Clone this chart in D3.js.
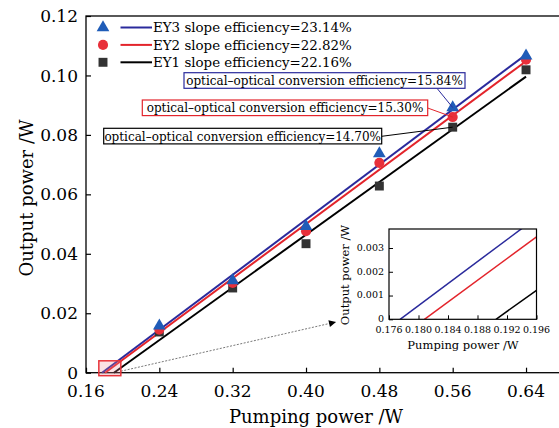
<!DOCTYPE html>
<html>
<head>
  <meta charset="UTF-8">
  <style>
body {
    margin: 0;
    padding: 0;
    background-color: white;
}
svg {
    display: block;
    font-family: "DejaVu Serif", serif;
}
  </style>
</head>
<body>
<svg></svg>

<script src="https://d3js.org/d3.v7.min.js"></script>

<script>

let width = 559, height = 428;

// values
const pumpPower = [0.24, 0.32, 0.40, 0.48, 0.56, 0.64];
const ey3Power = [0.0158, 0.0310, 0.0492, 0.0737, 0.0892, 0.1066];
const ey2Power = [0.0145, 0.0302, 0.0476, 0.0706, 0.0860, 0.1053];
const ey1Power = [0.0137, 0.0285, 0.0434, 0.0628, 0.0826, 0.1019];

const seriesNames = ["EY3", "EY2", "EY1"];
const slopeEff = [0.2314, 0.2282, 0.2216];
const thresholds = [0.1775, 0.1808, 0.1905];
const legendLabels = ["EY3 slope efficiency=23.14%", "EY2 slope efficiency=22.82%", "EY1 slope efficiency=22.16%"];
const convLabels = [
  "optical\u2013optical conversion efficiency=15.84%",
  "optical\u2013optical conversion efficiency=15.30%",
  "optical\u2013optical conversion efficiency=14.70%"
];

const xTicks = [0.16, 0.24, 0.32, 0.40, 0.48, 0.56, 0.64];
const yTicks = [0, 0.02, 0.04, 0.06, 0.08, 0.10, 0.12];
const insetXTicks = [0.176, 0.180, 0.184, 0.188, 0.192, 0.196];
const insetYTicks = [0, 0.001, 0.002, 0.003];

const lineColors = ["#2a2a9c", "#e3242b", "#000000"];
const markColors = ["#1f5cb8", "#e8303a", "#333333"];
const symbols = [d3.symbolTriangle, d3.symbolCircle, d3.symbolSquare];
const powers = [ey3Power, ey2Power, ey1Power];

let svg = d3.select("svg")
    .attr("width", width)
    .attr("height", height);

// main scales
let x = d3.scaleLinear().domain([0.16, 0.68]).range([86, 562.7]);
let y = d3.scaleLinear().domain([0, 0.12]).range([372.7, 16]);

// frame
svg.append("rect")
  .attr("x", x(0.16)).attr("y", y(0.12))
  .attr("width", x(0.68) - x(0.16)).attr("height", y(0) - y(0.12))
  .attr("fill", "none").attr("stroke", "black").attr("stroke-width", 1.3);

// axes, ticks pointing inward
let xAxis = svg.append("g")
  .attr("transform", `translate(0,${y(0)})`)
  .call(d3.axisTop(x).tickValues(xTicks).tickSize(5).tickFormat(""));
xAxis.select(".domain").remove();
xAxis.selectAll("line").attr("stroke-width", 1.2);

let yAxis = svg.append("g")
  .attr("transform", `translate(${x(0.16)},0)`)
  .call(d3.axisRight(y).tickValues(yTicks).tickSize(5).tickFormat(""));
yAxis.select(".domain").remove();
yAxis.selectAll("line").attr("stroke-width", 1.2);

svg.append("g").selectAll("text")
  .data(xTicks).enter().append("text")
  .attr("x", d => x(d)).attr("y", 397)
  .attr("text-anchor", "middle").attr("font-size", "17px")
  .text(d => d3.format(".2f")(d));

svg.append("g").selectAll("text")
  .data(yTicks).enter().append("text")
  .attr("x", 78).attr("y", d => y(d)).attr("dy", "0.36em")
  .attr("text-anchor", "end").attr("font-size", "17px")
  .text(d => d == 0 ? "0" : d3.format(".2f")(d));

svg.append("text")
  .attr("x", 316).attr("y", 423)
  .attr("text-anchor", "middle").attr("font-size", "18px")
  .text("Pumping power /W");

svg.append("text")
  .attr("transform", "translate(33,198) rotate(-90)")
  .attr("text-anchor", "middle").attr("font-size", "18px")
  .text("Output power /W");

// fitted lines
let fitLines = svg.append("g");
seriesNames.forEach((s, i) => {
  fitLines.append("line")
    .attr("x1", x(thresholds[i])).attr("y1", y(0))
    .attr("x2", x(0.64)).attr("y2", y(slopeEff[i] * (0.64 - thresholds[i])))
    .attr("stroke", lineColors[i]).attr("stroke-width", 2);
});

// markers, EY1 first so triangles sit on top
let marks = svg.append("g");
[2, 1, 0].forEach(i => {
  marks.selectAll(".m" + i)
    .data(pumpPower.map((p, j) => [p, powers[i][j]]))
    .enter().append("path")
    .attr("class", "m" + i)
    .attr("transform", d => `translate(${x(d[0])},${y(d[1])})`)
    .attr("d", d3.symbol().type(symbols[i]).size(i == 0 ? 70 : 80))
    .attr("fill", markColors[i]);
});

// legend
let legend = svg.append("g");
seriesNames.forEach((s, i) => {
  let ly = 27.5 + i * 17.4;
  legend.append("path")
    .attr("transform", `translate(103,${ly})`)
    .attr("d", d3.symbol().type(symbols[i]).size(i == 0 ? 70 : 80))
    .attr("fill", markColors[i]);
  legend.append("line")
    .attr("x1", 120.5).attr("x2", 152).attr("y1", ly).attr("y2", ly)
    .attr("stroke", lineColors[i]).attr("stroke-width", 2);
  legend.append("text")
    .attr("x", 153).attr("y", ly).attr("dy", "0.36em")
    .attr("font-size", "13.4px")
    .text(legendLabels[i]);
});

// conversion efficiency callouts
const boxX = [184, 142.3, 103.7];
const boxY = [72.7, 100, 128.3];
const boxW = [281, 285.4, 278];
const boxColors = ["#2a2a9c", "#e3242b", "#000000"];
let callouts = svg.append("g");
seriesNames.forEach((s, i) => {
  let px = x(0.56), py = y(powers[i][4]);
  let sx = i == 0 ? boxX[i] + boxW[i] - 28 : boxX[i] + boxW[i];
  let sy = i == 0 ? boxY[i] + 15.6 : boxY[i] + 8;
  callouts.append("line")
    .attr("x1", sx).attr("y1", sy).attr("x2", px).attr("y2", py)
    .attr("stroke", boxColors[i]).attr("stroke-width", 1);
  callouts.append("rect")
    .attr("x", boxX[i]).attr("y", boxY[i])
    .attr("width", boxW[i]).attr("height", 15.6)
    .attr("fill", "white").attr("stroke", boxColors[i]).attr("stroke-width", 1.2);
  callouts.append("text")
    .attr("x", boxX[i] + boxW[i] / 2).attr("y", boxY[i] + 8).attr("dy", "0.36em")
    .attr("text-anchor", "middle").attr("font-size", "12px")
    .text(convLabels[i]);
});

// zoom marker near threshold + dashed arrow to inset
svg.append("defs").append("marker")
  .attr("id", "arrow").attr("viewBox", "0 0 10 10")
  .attr("refX", 10).attr("refY", 5)
  .attr("markerWidth", 9).attr("markerHeight", 7)
  .attr("markerUnits", "userSpaceOnUse")
  .attr("orient", "auto")
  .append("path").attr("d", "M0,0 L10,5 L0,10 z").attr("fill", "black");

svg.append("line")
  .attr("x1", x(0.198)).attr("y1", y(0.0005))
  .attr("x2", 336).attr("y2", 322)
  .attr("stroke", "#555").attr("stroke-width", 0.8)
  .attr("stroke-dasharray", "2,1.5")
  .attr("marker-end", "url(#arrow)");

svg.append("rect")
  .attr("x", x(0.174)).attr("y", y(0.004))
  .attr("width", x(0.198) - x(0.174)).attr("height", y(-0.001) - y(0.004))
  .attr("fill", "rgba(240,140,150,0.25)")
  .attr("stroke", "#e8333a").attr("stroke-width", 1.5);

// inset
let ix = d3.scaleLinear().domain([0.176, 0.196]).range([389, 536.5]);
let iy = d3.scaleLinear().domain([0, 0.0038]).range([319.3, 229]);

let inset = svg.append("g");
inset.append("rect")
  .attr("x", ix(0.176)).attr("y", iy(0.0038))
  .attr("width", ix(0.196) - ix(0.176)).attr("height", iy(0) - iy(0.0038))
  .attr("fill", "white");

inset.append("clipPath").attr("id", "insetClip")
  .append("rect")
  .attr("x", ix(0.176)).attr("y", iy(0.0038))
  .attr("width", ix(0.196) - ix(0.176)).attr("height", iy(0) - iy(0.0038));

let insetLines = inset.append("g").attr("clip-path", "url(#insetClip)");
seriesNames.forEach((s, i) => {
  insetLines.append("line")
    .attr("x1", ix(thresholds[i])).attr("y1", iy(0))
    .attr("x2", ix(0.196)).attr("y2", iy(slopeEff[i] * (0.196 - thresholds[i])))
    .attr("stroke", lineColors[i]).attr("stroke-width", 1.5);
});

inset.append("rect")
  .attr("x", ix(0.176)).attr("y", iy(0.0038))
  .attr("width", ix(0.196) - ix(0.176)).attr("height", iy(0) - iy(0.0038))
  .attr("fill", "none").attr("stroke", "black").attr("stroke-width", 1.2);

let ixAxis = inset.append("g")
  .attr("transform", `translate(0,${iy(0)})`)
  .call(d3.axisTop(ix).tickValues(insetXTicks).tickSize(4).tickFormat(""));
ixAxis.select(".domain").remove();

let iyAxis = inset.append("g")
  .attr("transform", `translate(${ix(0.176)},0)`)
  .call(d3.axisRight(iy).tickValues(insetYTicks).tickSize(4).tickFormat(""));
iyAxis.select(".domain").remove();

inset.append("g").selectAll("text")
  .data(insetXTicks).enter().append("text")
  .attr("x", d => ix(d)).attr("y", 333)
  .attr("text-anchor", "middle").attr("font-size", "9.5px")
  .text(d => d3.format(".3f")(d));

inset.append("g").selectAll("text")
  .data(insetYTicks).enter().append("text")
  .attr("x", 384).attr("y", d => iy(d)).attr("dy", "0.3em")
  .attr("text-anchor", "end").attr("font-size", "9.5px")
  .text(d => d == 0 ? "0" : d3.format(".3f")(d));

inset.append("text")
  .attr("x", 463).attr("y", 349)
  .attr("text-anchor", "middle").attr("font-size", "11.5px")
  .text("Pumping power /W");

inset.append("text")
  .attr("transform", "translate(349,275) rotate(-90)")
  .attr("text-anchor", "middle").attr("font-size", "11.5px")
  .text("Output power /W");

</script>
</body>
</html>
